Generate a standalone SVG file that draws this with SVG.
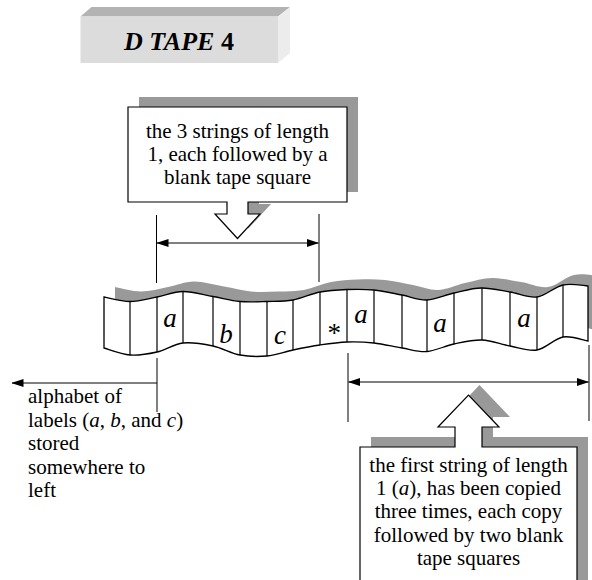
<svg xmlns="http://www.w3.org/2000/svg" width="592" height="580" viewBox="0 0 592 580">
  <style>
    text { font-family: "Liberation Serif", "Times New Roman", serif; fill: #000; }
    .lbl { font-size: 21px; }
    .mid { text-anchor: middle; }
    .sym { font-size: 27px; font-style: italic; text-anchor: middle; }
    .line { stroke: #000; stroke-width: 1; fill: none; }
    .shadow { fill: #999; stroke: none; }
    .callout { fill: #fff; stroke: #000; stroke-width: 1.2; }
    .cell { stroke: #000; stroke-width: 1.2; }
  </style>
  <defs>
    <marker id="arrow" viewBox="0 0 12 8" refX="11.5" refY="4" markerWidth="12" markerHeight="8" markerUnits="userSpaceOnUse" orient="auto-start-reverse">
      <path d="M0,0 L12,4 L0,8 Z" fill="#000"/>
    </marker>
    <path id="tapeShape" d="M104,297 C108.33,297.75 121.17,301.5 130,301.5 C138.83,301.5 148.17,298.67 157,297 C165.83,295.33 173.67,291.58 183,291.5 C192.33,291.42 203.5,294.83 213,296.5 C222.5,298.17 231,300.67 240,301.5 C249,302.33 258.17,301.75 267,301.5 C275.83,301.25 284.17,301.58 293,300 C301.83,298.42 311,293.75 320,292 C329,290.25 338,289.83 347,289.5 C356,289.17 364.83,289.08 374,290 C383.17,290.92 393.17,293.33 402,295 C410.83,296.67 418.33,300.33 427,300 C435.67,299.67 444.83,295 454,293 C463.17,291 472.67,287.83 482,288 C491.33,288.17 500.83,290.5 510,292 C519.17,293.5 528.17,298.17 537,297 C545.830,295.83 554.5,286.83 563,285 C571.5,283.17 583.83,285.83 588,286 L588,341 C583.83,340.33 571.5,335.5 563,337 C554.5,338.5 545.83,348.5 537,350 C528.17,351.5 519.17,347.67 510,346 C500.83,344.33 491.33,340.33 482,340 C472.67,339.67 463.17,342.08 454,344 C444.83,345.92 435.67,350.83 427,351.5 C418.33,352.17 410.83,349.42 402,348 C393.17,346.58 383.17,344 374,343 C364.83,342 356,341.67 347,342 C338,342.33 329,343.67 320,345 C311,346.33 301.83,348.17 293,350 C284.17,351.83 275.83,355.17 267,356 C258.17,356.83 249,356.67 240,355 C231,353.33 222.5,348 213,346 C203.5,344 192.33,342 183,343 C173.67,344 165.83,350 157,352 C148.17,354 138.83,355.67 130,355 C121.17,354.33 108.33,349.17 104,348 Z"/>
    <path id="topCallout" d="M128,107 H347 V202 H248 V214 H260 L237.5,238.5 L215,214 H227 V202 H128 Z"/>
    <path id="bottomCallout" d="M360,447 H455 V427 H438 L468.5,395 L499,427 H482 V447 H577 V600 H360 Z"/>
  </defs>

  <!-- title block -->
  <g id="title">
    <polygon points="80.5,16.5 91.5,7 290,7 278,16.5" fill="#b3b3b3"/>
    <polygon points="278,16.5 290,7 290,53 278,63" fill="#ececec"/>
    <rect x="80.5" y="16.5" width="197.5" height="46.5" fill="#dcdcdc"/>
    <text x="179" y="50" class="mid" style="font-size:26px;font-weight:bold"><tspan font-style="italic">D TAPE</tspan> 4</text>
  </g>

  <!-- tape strip -->
  <g id="tape">
    <use href="#tapeShape" class="shadow" transform="translate(11,-10)"/>
    <use href="#tapeShape" fill="#fff" stroke="#000" stroke-width="1.3"/>
    <g class="cell">
      <line x1="130" y1="301.5" x2="130" y2="355"/>
      <line x1="157" y1="297" x2="157" y2="352"/>
      <line x1="183" y1="291.5" x2="183" y2="343"/>
      <line x1="213" y1="296.5" x2="213" y2="346"/>
      <line x1="240" y1="301.5" x2="240" y2="355"/>
      <line x1="267" y1="301.5" x2="267" y2="356"/>
      <line x1="293" y1="300" x2="293" y2="350"/>
      <line x1="320" y1="292" x2="320" y2="345"/>
      <line x1="347" y1="289.5" x2="347" y2="342"/>
      <line x1="374" y1="290" x2="374" y2="343"/>
      <line x1="402" y1="295" x2="402" y2="348"/>
      <line x1="427" y1="300" x2="427" y2="351.5"/>
      <line x1="454" y1="293" x2="454" y2="344"/>
      <line x1="482" y1="288" x2="482" y2="340"/>
      <line x1="510" y1="292" x2="510" y2="346"/>
      <line x1="537" y1="297" x2="537" y2="350"/>
      <line x1="563" y1="285" x2="563" y2="337"/>
    </g>
    <text x="170" y="327" class="sym">a</text>
    <text x="226" y="343" class="sym">b</text>
    <text x="280" y="344" class="sym">c</text>
    <text x="333" y="342" class="sym" font-style="normal">*</text>
    <text x="361" y="323" class="sym">a</text>
    <text x="440" y="332" class="sym">a</text>
    <text x="524" y="327" class="sym">a</text>
  </g>

  <!-- dimension lines -->
  <g id="connectors" class="line">
    <line x1="156.5" y1="215" x2="156.5" y2="283"/>
    <line x1="319" y1="214" x2="319" y2="282"/>
    <line x1="157" y1="243" x2="318.5" y2="243" marker-start="url(#arrow)" marker-end="url(#arrow)"/>
    <line x1="157" y1="358" x2="157" y2="412"/>
    <line x1="157" y1="383" x2="12" y2="383" marker-end="url(#arrow)"/>
    <line x1="348" y1="353" x2="348" y2="422"/>
    <line x1="589" y1="345" x2="589" y2="421"/>
    <line x1="348.5" y1="382" x2="588.5" y2="382" marker-start="url(#arrow)" marker-end="url(#arrow)"/>
  </g>

  <!-- upper callout -->
  <g id="callout-strings">
    <use href="#topCallout" class="shadow" transform="translate(11,-10)"/>
    <use href="#topCallout" class="callout"/>
    <text class="lbl mid" x="237.5" y="138">the 3 strings of length</text>
    <text class="lbl mid" x="237.5" y="161">1, each followed by a</text>
    <text class="lbl mid" x="237.5" y="184">blank tape square</text>
  </g>

  <!-- left note -->
  <g id="note-alphabet">
    <text class="lbl" x="28" y="403">alphabet of</text>
    <text class="lbl" x="28" y="427">labels (<tspan font-style="italic">a</tspan>, <tspan font-style="italic">b</tspan>, and <tspan font-style="italic">c</tspan>)</text>
    <text class="lbl" x="28" y="450">stored</text>
    <text class="lbl" x="28" y="474">somewhere to</text>
    <text class="lbl" x="28" y="497">left</text>
  </g>

  <!-- lower callout -->
  <g id="callout-copies">
    <use href="#bottomCallout" class="shadow" transform="translate(11,-10)"/>
    <use href="#bottomCallout" class="callout"/>
    <text class="lbl mid" x="468.5" y="472">the first string of length</text>
    <text class="lbl mid" x="468.5" y="495">1 (<tspan font-style="italic">a</tspan>), has been copied</text>
    <text class="lbl mid" x="468.5" y="518">three times, each copy</text>
    <text class="lbl mid" x="468.5" y="542">followed by two blank</text>
    <text class="lbl mid" x="468.5" y="565">tape squares</text>
  </g>
</svg>
